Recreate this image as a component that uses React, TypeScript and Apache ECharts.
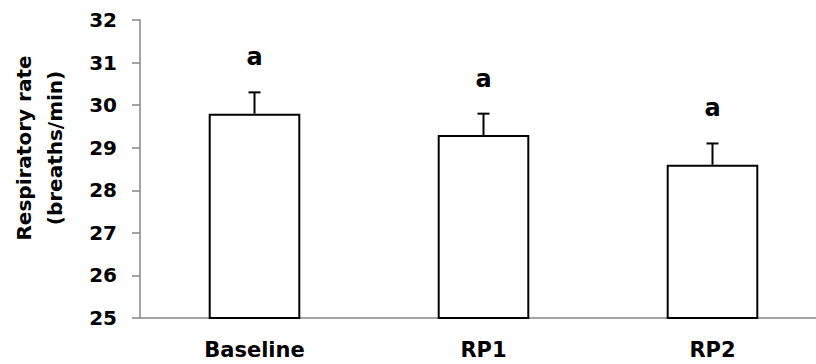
import React, { useEffect, useRef } from "react";
import * as echarts from "echarts";

// Mean respiratory rate per phase with upward SEM whiskers
const phases = ["Baseline", "RP1", "RP2"];
const meanRate = [29.8, 29.3, 28.6];
const semRate = [0.5, 0.5, 0.5];
const groupLetters = ["a", "a", "a"];
const yTicks = { min: 25, max: 32, step: 1 };

const FONT = "DejaVu Sans";
const AXIS_GREY = "#878787";

export default function App() {
  const ref = useRef<HTMLDivElement>(null);

  useEffect(() => {
    document.body.style.margin = "0";
    document.body.style.overflow = "hidden";
    if (!ref.current) return;
    const chart = echarts.init(ref.current, null, { renderer: "svg" });

    const errorData = phases.map((_, i) => [i, meanRate[i], semRate[i]]);

    chart.setOption({
      animation: false,
      backgroundColor: "#ffffff",
      // plot area runs past the right edge of the visible page
      grid: { left: 140, top: 20, width: 687, height: 298, containLabel: false },
      xAxis: {
        type: "category",
        data: phases,
        axisLine: { show: true, lineStyle: { color: AXIS_GREY, width: 1.5 } },
        axisTick: { show: false },
        axisLabel: {
          color: "#000",
          fontFamily: FONT,
          fontWeight: "bold",
          fontSize: 21,
          margin: 21,
        },
      },
      yAxis: {
        type: "value",
        min: yTicks.min,
        max: yTicks.max,
        interval: yTicks.step,
        axisLine: { show: true, lineStyle: { color: AXIS_GREY, width: 1.5 } },
        axisTick: { show: true, inside: false, length: 8, lineStyle: { color: AXIS_GREY, width: 1.5 } },
        splitLine: { show: false },
        axisLabel: {
          color: "#000",
          fontFamily: FONT,
          fontWeight: "bold",
          fontSize: 20,
          margin: 23,
        },
      },
      graphic: [
        {
          type: "text",
          x: 39,
          y: 148,
          rotation: Math.PI / 2,
          style: {
            text: "Respiratory rate\n(breaths/min)",
            fontFamily: FONT,
            fontWeight: "bold",
            fontSize: 20,
            lineHeight: 31,
            fill: "#000",
            align: "center",
            verticalAlign: "middle",
          },
        },
      ],
      series: [
        {
          type: "bar",
          data: meanRate,
          barWidth: "40%",
          itemStyle: { color: "#ffffff", borderColor: "#000000", borderWidth: 2 },
          z: 2,
        },
        {
          type: "custom",
          data: errorData,
          z: 3,
          renderItem: (params: any, api: any) => {
            const idx = api.value(0);
            const mean = api.value(1);
            const err = api.value(2);
            const base = api.coord([idx, mean]);
            const top = api.coord([idx, mean + err]);
            const half = 6;
            const stroke = { stroke: "#000", lineWidth: 2 };
            return {
              type: "group",
              children: [
                { type: "line", shape: { x1: base[0], y1: base[1], x2: top[0], y2: top[1] }, style: stroke },
                { type: "line", shape: { x1: top[0] - half, y1: top[1], x2: top[0] + half, y2: top[1] }, style: stroke },
                {
                  type: "text",
                  x: top[0],
                  y: top[1] - 35,
                  style: {
                    text: groupLetters[params.dataIndex],
                    fontFamily: FONT,
                    fontWeight: "bold",
                    fontSize: 24,
                    fill: "#000",
                    align: "center",
                    verticalAlign: "middle",
                  },
                },
              ],
            };
          },
        },
      ],
    });

    return () => chart.dispose();
  }, []);

  return <div ref={ref} style={{ width: 830, height: 364 }} />;
}
